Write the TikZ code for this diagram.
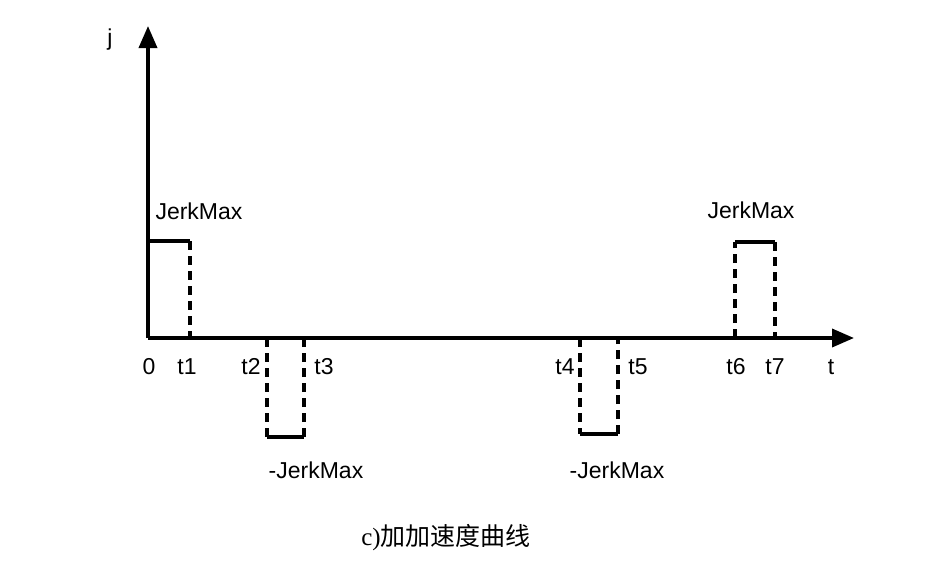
\documentclass[tikz,border=0pt]{standalone}
\usepackage{fontspec}
\setmainfont{Liberation Sans}
\newfontfamily\cjk{Noto Sans CJK SC}
\newfontfamily\serifc{Liberation Serif}
\usetikzlibrary{arrows.meta}
\begin{document}
\begin{tikzpicture}[x=1pt,y=-1pt,
  axis/.style={line width=3.6pt,-{Triangle[length=22pt,width=18pt]}},
  solidl/.style={line width=3.2pt},
  dashl/.style={line width=3.2pt,dash pattern=on 9pt off 6pt},
  lbl/.style={font=\fontsize{23}{27}\selectfont,inner sep=0pt}]
\useasboundingbox (0,0) rectangle (942,573);
\coordinate (o) at (148,338);
\coordinate (ytop) at (148,26);
\coordinate (xend) at (854,338);
\draw[axis] (o) -- (ytop);
\draw[axis] (o) -- (xend);
% pulse 1
\coordinate (a1) at (150,241); \coordinate (a2) at (190,241); \coordinate (a3) at (190,338);
\draw[solidl] (a1) -- (a2); \draw[dashl] (a2) -- (a3);
% pulse 2
\coordinate (b0) at (267,338); \coordinate (b1) at (267,437); \coordinate (b2) at (304,437); \coordinate (b3) at (304,338);
\draw[dashl] (b0) -- (b1); \draw[solidl] (b1) -- (b2); \draw[dashl] (b2) -- (b3);
% pulse 3
\coordinate (c0) at (580,338); \coordinate (c1) at (580,434); \coordinate (c2) at (618,434); \coordinate (c3) at (618,338);
\draw[dashl] (c0) -- (c1); \draw[solidl] (c1) -- (c2); \draw[dashl] (c2) -- (c3);
% pulse 4
\coordinate (d0) at (735,338); \coordinate (d1) at (735,242); \coordinate (d2) at (775,242); \coordinate (d3) at (775,338);
\draw[dashl] (d0) -- (d1); \draw[solidl] (d1) -- (d2); \draw[dashl] (d2) -- (d3);
% labels
\node[lbl] (lj) at (110,40) {j};
\node[lbl] (lm1) at (199,211) {JerkMax};
\node[lbl] (lm4) at (751,210) {JerkMax};
\node[lbl] (lm2) at (316,470) {-JerkMax};
\node[lbl] (lm3) at (617,470) {-JerkMax};
\node[lbl] (l0) at (149,367) {0};
\node[lbl] (l1) at (187,367) {t1};
\node[lbl] (l2) at (251,367) {t2};
\node[lbl] (l3) at (324,367) {t3};
\node[lbl] (l4) at (565,367) {t4};
\node[lbl] (l5) at (638,367) {t5};
\node[lbl] (l6) at (736,367) {t6};
\node[lbl] (l7) at (775,367) {t7};
\node[lbl] (lt) at (831,367) {t};
\node[lbl,font=\fontsize{25}{29}\selectfont] (cap) at (446,538) {\serifc c)\cjk 加加速度曲线};
\end{tikzpicture}
\end{document}
